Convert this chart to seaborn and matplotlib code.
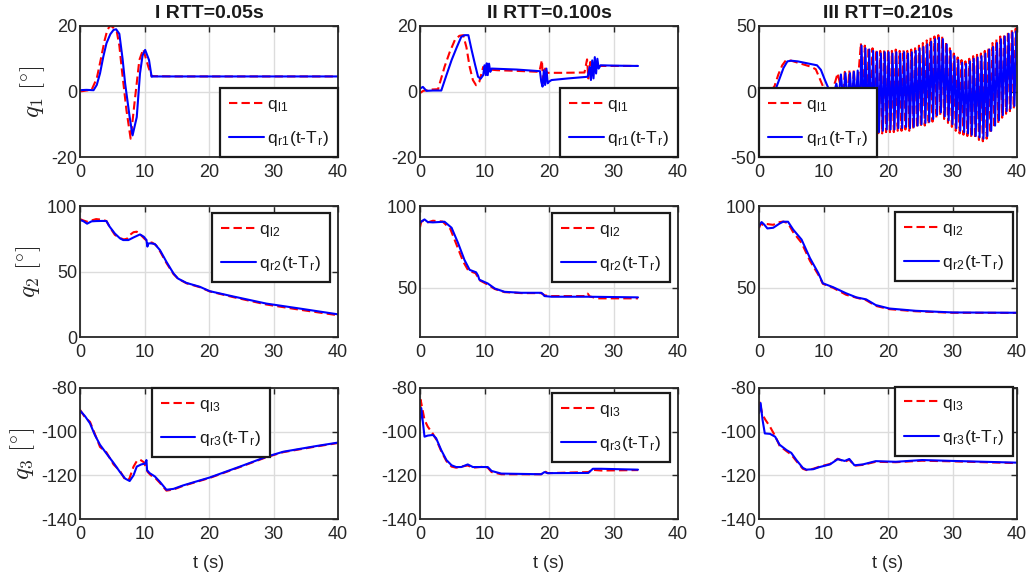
import matplotlib
matplotlib.use("Agg")
import matplotlib.pyplot as plt
import seaborn as sns

# ---------------- data ----------------
titles = ["I RTT=0.05s", "II RTT=0.100s", "III RTT=0.210s"]
ylabels = [r"$q_1\ [\!^\circ\!]$", r"$q_2\ [\!^\circ\!]$", r"$q_3\ [\!^\circ\!]$"]
xticks = [0, 10, 20, 30, 40]

# --- row 1 (q1) ---
t11_l = [0, 1.0, 1.8, 2.6, 3.2, 3.8, 4.2, 4.6, 5.0, 5.7, 6.1, 6.5, 7.2, 7.85, 8.5, 9.2, 9.8, 10.6, 11.1, 15, 25, 40]
q11_l = [0, 0.3, 0.5, 4.0, 9.6, 15.5, 18.5, 20.0, 19.8, 18.3, 14.0, 6.5, -5.7, -14.4, -2.6, 9.6, 12.9, 7.5, 4.7, 4.6, 4.6, 4.6]
t11_r = [0, 1.0, 2.1, 2.6, 3.1, 3.6, 4.1, 4.7, 5.2, 5.6, 6.1, 6.6, 7.0, 7.7, 8.15, 8.8, 9.3, 9.7, 10.1, 10.7, 11.1, 11.3, 20, 40]
q11_r = [0.4, 0.5, 0.4, 2.0, 5.5, 10.5, 14.7, 17.5, 18.8, 19.0, 17.6, 10.0, 2.4, -7.8, -13.4, -7.8, 5.5, 11.0, 12.7, 9.6, 4.5, 4.6, 4.6, 4.6]

t12_l = [0, 0.5, 1.75, 2.8, 3.8, 4.6, 5.4, 6.1, 6.7, 7.2, 7.7, 8.2, 8.7, 9.2, 9.8, 10.3, 12, 15, 18.5, 18.9, 19.1, 19.4, 19.7, 20.0, 22, 25.5, 25.9, 26.1, 26.4, 26.7, 27.0, 27.5, 30, 33.8]
q12_l = [-0.5, 0.2, 0.6, 0.7, 7.5, 12.0, 15.7, 17.0, 17.2, 13.5, 7.5, 3.5, 1.9, 3.0, 7.5, 6.8, 6.5, 6.3, 6.0, 9.6, 2.0, 7.0, 5.7, 5.7, 5.7, 5.8, 9.8, 4.0, 9.0, 6.0, 7.9, 7.8, 7.8, 7.8]
t12_r = [0, 0.45, 1.0, 2.0, 3.3, 4.1, 4.9, 5.7, 6.4, 6.9, 7.5, 8.0, 8.5, 9.0, 9.4, 9.8, 10.0, 10.2, 10.35, 10.5, 10.7, 10.9, 11.1, 15.0, 18.6, 18.8, 19.0, 19.2, 19.4, 19.6, 19.8, 20.0, 20.4, 23.0, 26.0, 26.3, 26.5, 26.7, 26.9, 27.1, 27.3, 27.5, 27.7, 28.0, 30.0, 33.8]
q12_r = [0.9, 1.4, 0.2, 0.3, 0.3, 5.0, 9.6, 13.5, 16.7, 17.2, 17.2, 12.7, 8.5, 4.5, 3.9, 5.0, 8.0, 5.0, 8.6, 5.0, 8.5, 6.0, 7.0, 6.7, 6.2, 3.0, 1.5, 6.5, 2.0, 7.0, 2.5, 3.0, 3.5, 4.0, 4.5, 7.5, 3.5, 9.5, 4.0, 10.5, 5.5, 10.0, 7.0, 8.0, 7.9, 7.8]

t13_l = [0, 1.0, 1.8, 2.4, 3.0, 3.6, 4.2, 5.0, 6.0, 7.0, 8.0, 8.8, 9.4, 10.0, 10.6, 11.0, 11.5, 11.85, 12.2, 12.6, 12.95, 13.3, 13.65, 14.0, 14.35, 14.7, 15.05, 15.45,
         15.8, 16.1, 16.4, 16.7, 17.0, 17.3, 17.6, 17.9, 18.2, 18.5, 18.8, 19.1, 19.4, 19.7, 20.0, 20.3, 20.6, 20.9, 21.2, 21.5,
         21.8, 22.1, 22.4, 22.7, 23.0, 23.3, 23.6, 23.9, 24.2, 24.5, 24.8, 25.1, 25.4, 25.7, 26.0, 26.3, 26.6, 26.9, 27.2, 27.5,
         27.8, 28.1, 28.4, 28.7, 29.0, 29.3, 29.6, 29.9, 30.2, 30.5, 30.8, 31.1, 31.4, 31.7, 32.0, 32.3, 32.6, 32.9, 33.2, 33.5,
         33.8, 34.1, 34.4, 34.7, 35.0, 35.3, 35.6, 35.9, 36.2, 36.5, 36.8, 37.1, 37.4, 37.7, 38.0, 38.3, 38.6, 38.9, 39.2, 39.5,
         39.8, 40.0]
q13_l = [0.0, 0.3, 0.5, 4.0, 13.0, 20.0, 24.0, 23.5, 22.0, 20.5, 19.0, 17.0, 10.0, 3.0, -2.0, -5.0, 3.0, 8.0, 14.0, 5.0, -8.0, 15.0, -10.0, 16.0, -11.0, 17.0, -12.0, 15.0,
         37, -24, 35, -29, 34, -31, 33, -32, 32, -33, 31, -32, 32, -31, 32, -31, 31, -31, 32, -30,
         31, -30, 32, -29, 31, -30, 32, -29, 33, -28, 35, -27, 37, -26, 39, -25, 41, -23, 42, -20,
         43, -18, 42, -21, 38, -24, 33, -27, 29, -30, 26, -32, 24, -33, 23, -34, 25, -35, 27, -36,
         28, -37, 29, -38, 31, -36, 34, -32, 37, -28, 40, -24, 42, -20, 44, -17, 46, -15, 47, -13,
         48, 20]
t13_r = [0, 1.0, 2.0, 2.6, 3.2, 3.8, 4.4, 5.0, 6.0, 7.0, 8.0, 9.0, 9.6, 10.2, 10.8, 11.2, 11.6, 12.0, 12.35, 12.7, 13.05, 13.4, 13.75, 14.1, 14.4, 14.7, 15.0, 15.3, 15.6,
         15.9, 16.2, 16.5, 16.8, 17.1, 17.4, 17.7, 18.0, 18.3, 18.6, 18.9, 19.2, 19.5, 19.8, 20.1, 20.4, 20.7, 21.0, 21.3, 21.6,
         21.9, 22.2, 22.5, 22.8, 23.1, 23.4, 23.7, 24.0, 24.3, 24.6, 24.9, 25.2, 25.5, 25.8, 26.1, 26.4, 26.7, 27.0, 27.3, 27.6,
         27.9, 28.2, 28.5, 28.8, 29.1, 29.4, 29.7, 30.0, 30.3, 30.6, 30.9, 31.2, 31.5, 31.8, 32.1, 32.4, 32.7, 33.0, 33.3, 33.6,
         33.9, 34.2, 34.5, 34.8, 35.1, 35.4, 35.7, 36.0, 36.3, 36.6, 36.9, 37.2, 37.5, 37.8, 38.1, 38.4, 38.7, 39.0, 39.3, 39.6,
         39.9, 40.0]
q13_r = [0.5, 0.3, 0.2, 2.0, 10.0, 18.0, 23.0, 23.5, 23.0, 22.0, 21.0, 20.0, 16.5, 9.0, 2.0, -2.0, -1.0, 6.0, -4.0, 13.0, -6.0, 14.0, -8.0, 14.0, -9.0, 15.0, -10.0, 16.0, -18.0,
         35, -22, 33, -26, 32, -29, 31, -30, 30, -31, 29, -30, 30, -29, 30, -29, 29, -29, 30, -28,
         29, -28, 30, -27, 29, -28, 30, -27, 31, -26, 33, -25, 34, -24, 36, -23, 38, -21, 40, -18,
         41, -16, 40, -19, 36, -22, 31, -25, 27, -28, 24, -30, 22, -31, 21, -32, 23, -33, 25, -34,
         26, -35, 27, -36, 29, -34, 32, -30, 34, -26, 37, -22, 40, -18, 42, -15, 44, -13, 45, -11,
         46, 30]

# --- row 2 (q2) ---
t21_l = [0, 0.5, 1.1, 1.8, 2.5, 3.5, 4.1, 4.6, 5.4, 6.2, 6.8, 7.3, 7.7, 8.3, 8.8, 9.4, 10.0, 10.6, 11.2, 11.8, 12.4, 13.4, 14.5, 15.2, 16.5, 18.6, 20.1, 23.7, 28.9, 34.1, 40.0]
q21_l = [90.0, 89.0, 88.0, 89.0, 90.0, 89.5, 88.5, 84.0, 78.0, 75.5, 74.5, 75.0, 77.8, 80.0, 80.4, 78.0, 75.0, 72.5, 72.0, 70.0, 65.5, 56.5, 48.0, 44.5, 41.0, 38.0, 34.8, 30.5, 24.8, 20.8, 16.6]
t21_r = [0, 0.5, 1.1, 1.8, 2.5, 3.5, 4.1, 4.6, 5.4, 6.2, 6.7, 7.5, 8.3, 9.3, 9.9, 10.3, 10.45, 10.6, 11.0, 11.6, 12.4, 13.4, 14.5, 15.2, 16.5, 18.6, 20.1, 23.7, 28.9, 34.1, 40.0]
q21_r = [89.3, 88.5, 86.5, 88.3, 88.5, 88.6, 88.5, 84.2, 79.0, 75.3, 74.0, 74.0, 76.0, 78.3, 76.5, 74.0, 69.0, 71.4, 71.5, 71.0, 66.3, 57.4, 48.5, 44.6, 41.3, 38.3, 35.0, 31.0, 25.5, 21.7, 17.3]

t22_l = [0, 0.2, 0.6, 1.2, 2.0, 3.5, 4.7, 5.7, 6.7, 7.5, 8.6, 9.3, 10.5, 11.6, 13.1, 15.7, 18.8, 19.3, 20.0, 25.7, 26.0, 26.3, 27.5, 33.8]
q22_l = [87.0, 90.5, 91.0, 90.0, 91.0, 90.5, 86.0, 76.0, 66.0, 60.5, 59.0, 54.5, 52.0, 49.3, 47.4, 46.8, 46.8, 45.5, 45.0, 45.0, 46.5, 44.8, 43.6, 43.6]
t22_r = [0, 0.3, 0.7, 1.2, 2.0, 3.8, 4.9, 5.9, 6.9, 7.7, 8.7, 9.0, 9.2, 10.5, 11.6, 13.1, 15.7, 18.8, 19.1, 19.3, 20.4, 26.0, 33.8]
q22_r = [89.7, 90.8, 91.8, 90.2, 90.0, 90.4, 86.7, 77.4, 67.0, 61.0, 59.5, 57.5, 55.0, 52.7, 49.6, 47.6, 47.0, 47.0, 46.0, 45.0, 44.6, 44.6, 44.2]

t23_l = [0, 0.3, 0.7, 1.2, 2.2, 3.0, 3.75, 4.5, 5.3, 6.6, 7.9, 9.2, 9.9, 11.5, 13.5, 15.1, 16.6, 18.1, 20.2, 24.3, 30.0, 40.0]
q23_l = [86.5, 89.5, 88.0, 89.0, 88.5, 90.0, 90.5, 89.5, 84.0, 77.5, 66.5, 58.0, 52.5, 50.0, 45.8, 44.0, 42.5, 39.0, 37.0, 35.7, 34.8, 34.7]
t23_r = [0, 0.4, 0.8, 1.3, 2.2, 3.2, 3.75, 4.5, 5.3, 6.6, 7.9, 9.2, 9.9, 11.5, 13.5, 15.1, 16.6, 18.1, 20.2, 24.3, 30.0, 40.0]
q23_r = [87.7, 90.2, 88.7, 86.3, 86.7, 89.3, 90.4, 90.4, 85.6, 79.5, 68.2, 59.0, 52.8, 50.4, 46.7, 44.2, 43.0, 39.5, 37.4, 36.0, 35.0, 34.8]

# --- row 3 (q3) ---
t31_l = [0, 0.8, 1.55, 2.3, 3.1, 4.1, 5.2, 6.2, 7.0, 7.6, 8.3, 8.8, 9.3, 9.9, 10.5, 11.0, 11.6, 12.4, 13.4, 14.5, 16.0, 20.1, 24.8, 28.9, 31.5, 36.6, 40.0]
q31_l = [-90.0, -93.5, -95.5, -101.0, -107.0, -109.5, -115.0, -118.0, -122.0, -122.0, -116.0, -113.5, -112.8, -114.0, -118.5, -120.0, -121.0, -123.5, -127.0, -126.5, -124.8, -121.2, -116.2, -111.7, -109.4, -106.8, -105.2]
t31_r = [0, 0.8, 1.55, 2.3, 3.1, 4.1, 5.2, 6.2, 7.0, 7.7, 8.3, 8.8, 9.5, 10.1, 10.3, 10.4, 10.8, 11.6, 12.4, 13.4, 14.5, 16.0, 20.1, 24.8, 28.9, 31.5, 36.6, 40.0]
q31_r = [-90.3, -93.0, -96.2, -101.5, -106.0, -110.0, -114.3, -118.5, -121.5, -122.6, -120.0, -116.0, -115.0, -114.6, -113.0, -117.7, -119.0, -120.5, -123.0, -126.6, -126.2, -124.6, -121.0, -116.0, -111.5, -109.2, -106.6, -105.0]

t32_l = [0, 0.1, 0.7, 1.2, 2.0, 2.5, 3.3, 4.1, 4.9, 5.6, 6.4, 7.4, 8.2, 10.0, 10.5, 11.1, 12.6, 18.8, 19.3, 19.8, 26.1, 26.8, 28.1, 33.8]
q32_l = [-92.0, -85.4, -94.6, -97.7, -101.0, -103.5, -109.0, -113.5, -116.0, -116.5, -116.0, -115.5, -116.5, -116.0, -116.5, -118.5, -119.5, -119.5, -118.0, -119.0, -118.5, -117.5, -117.8, -117.6]
t32_r = [0, 0.2, 0.7, 1.2, 2.0, 2.5, 3.3, 4.1, 4.9, 5.6, 6.4, 7.4, 8.2, 10.0, 10.5, 11.1, 12.6, 18.8, 19.3, 19.8, 26.1, 26.8, 28.1, 33.8]
q32_r = [-95.0, -89.2, -102.3, -101.8, -101.5, -103.0, -108.5, -113.0, -115.4, -116.2, -116.2, -115.0, -116.2, -116.2, -116.2, -118.0, -119.2, -119.5, -118.5, -119.0, -118.9, -117.0, -117.0, -117.4]

t33_l = [0, 0.1, 0.5, 1.0, 1.7, 2.5, 3.2, 4.3, 5.0, 5.8, 6.8, 7.35, 8.4, 9.4, 11.0, 12.2, 13.3, 14.0, 14.8, 16.1, 18.1, 21.2, 25.3, 30.0, 40.0]
q33_l = [-90.0, -86.0, -92.0, -94.6, -97.7, -102.0, -106.5, -109.0, -110.5, -113.5, -117.0, -117.6, -117.0, -116.0, -114.8, -112.4, -113.8, -112.8, -115.6, -115.2, -113.8, -114.0, -113.3, -113.6, -114.4]
t33_r = [0, 0.25, 0.55, 0.9, 1.7, 2.5, 3.2, 4.3, 5.0, 5.8, 6.8, 7.35, 8.4, 9.4, 11.0, 12.2, 13.3, 14.0, 14.8, 16.1, 18.1, 21.2, 25.3, 30.0, 40.0]
q33_r = [-91.5, -86.9, -94.6, -100.8, -101.0, -102.3, -106.0, -108.5, -109.7, -113.0, -116.6, -117.4, -117.2, -116.2, -115.0, -112.6, -113.4, -112.5, -115.4, -115.0, -113.5, -113.8, -113.0, -113.4, -114.2]

ylims = [[(-20, 20), (-20, 20), (-50, 50)],
         [(0, 100), (20, 100), (20, 100)],
         [(-140, -80), (-140, -80), (-140, -80)]]
yticks = [[[-20, 0, 20], [-20, 0, 20], [-50, 0, 50]],
          [[0, 50, 100], [50, 100], [50, 100]],
          [[-140, -120, -100, -80]] * 3]

series = [[(t11_l, q11_l, t11_r, q11_r), (t12_l, q12_l, t12_r, q12_r), (t13_l, q13_l, t13_r, q13_r)],
          [(t21_l, q21_l, t21_r, q21_r), (t22_l, q22_l, t22_r, q22_r), (t23_l, q23_l, t23_r, q23_r)],
          [(t31_l, q31_l, t31_r, q31_r), (t32_l, q32_l, t32_r, q32_r), (t33_l, q33_l, t33_r, q33_r)]]

# ---------------- style ----------------
sns.set_theme(style="white")
plt.rcParams['font.family'] = ['Liberation Sans', 'DejaVu Sans']
plt.rcParams['mathtext.fontset'] = 'cm'
plt.rcParams['axes.unicode_minus'] = False

W, H = 1035, 582
fig = plt.figure(figsize=(W / 100, H / 100), dpi=100, facecolor='white')

col_left = [80, 420, 759]
row_top = [26, 206, 388]
aw, ah = 258, 131

# legend placement (loc, anchor in axes fraction)
leg_pos = [[('lower right', (1.0, 0.0)), ('lower right', (1.0, 0.0)), ('lower left', (0.0, 0.0))],
           [('upper right', (0.969, 0.947)), ('upper right', (0.969, 0.947)), ('upper right', (0.984, 0.954))],
           [('upper left', (0.279, 1.0)), ('upper right', (0.969, 0.962)), ('upper right', (0.984, 1.01))]]

edge = '#262626'
for r in range(3):
    for c in range(3):
        ax = fig.add_axes([col_left[c] / W, 1 - (row_top[r] + ah) / H, aw / W, ah / H])
        tl, ql, tr, qr = series[r][c]
        j = r + 1
        lab_l = r'q$_{\mathregular{l%d}}$' % j
        lab_r = r'q$_{\mathregular{r%d}}$(t-T$_{\mathregular{r}}$)' % j
        sns.lineplot(x=tl, y=ql, ax=ax, color='#ff0000', linestyle=(0, (4, 2)), lw=1.5,
                     label=lab_l, estimator=None, sort=False)
        sns.lineplot(x=tr, y=qr, ax=ax, color='#0000ff', linestyle='-', lw=1.5,
                     label=lab_r, estimator=None, sort=False)
        ax.set_xticks(xticks)
        ax.set_yticks(yticks[r][c])
        ax.set_xlim(0, 40)
        ax.set_ylim(*ylims[r][c])
        ax.grid(True, color='#dcdcdc', lw=1)
        ax.set_axisbelow(True)
        for s in ax.spines.values():
            s.set_color(edge)
            s.set_linewidth(1.3)
        ax.tick_params(direction='in', length=4, width=1, colors=edge, labelsize=13,
                       top=True, right=True)
        ax.tick_params(axis='x', pad=5)
        ax.tick_params(axis='y', pad=2)
        ax.set_xlabel('')
        ax.set_ylabel('')
        if r == 0:
            ax.set_title(titles[c], fontsize=14, fontweight='bold', pad=6, color='#1a1a1a')
        if r == 2:
            ax.set_xlabel('t (s)', fontsize=13, color=edge, labelpad=9)
        if c == 0:
            ax.set_ylabel(ylabels[r], fontsize=18, color=edge, labelpad=3)
        loc, anchor = leg_pos[r][c]
        leg = ax.legend(loc=loc, bbox_to_anchor=anchor, borderaxespad=0, frameon=True,
                        fancybox=False, framealpha=1, edgecolor='#1a1a1a', fontsize=12.5,
                        handlelength=2.0, handletextpad=0.2, borderpad=0.5, labelspacing=0.9)
        leg.get_frame().set_linewidth(1.6)
        for txt in leg.get_texts():
            txt.set_color('#1a1a1a')

fig.savefig('out.png', dpi=100, facecolor='white')
